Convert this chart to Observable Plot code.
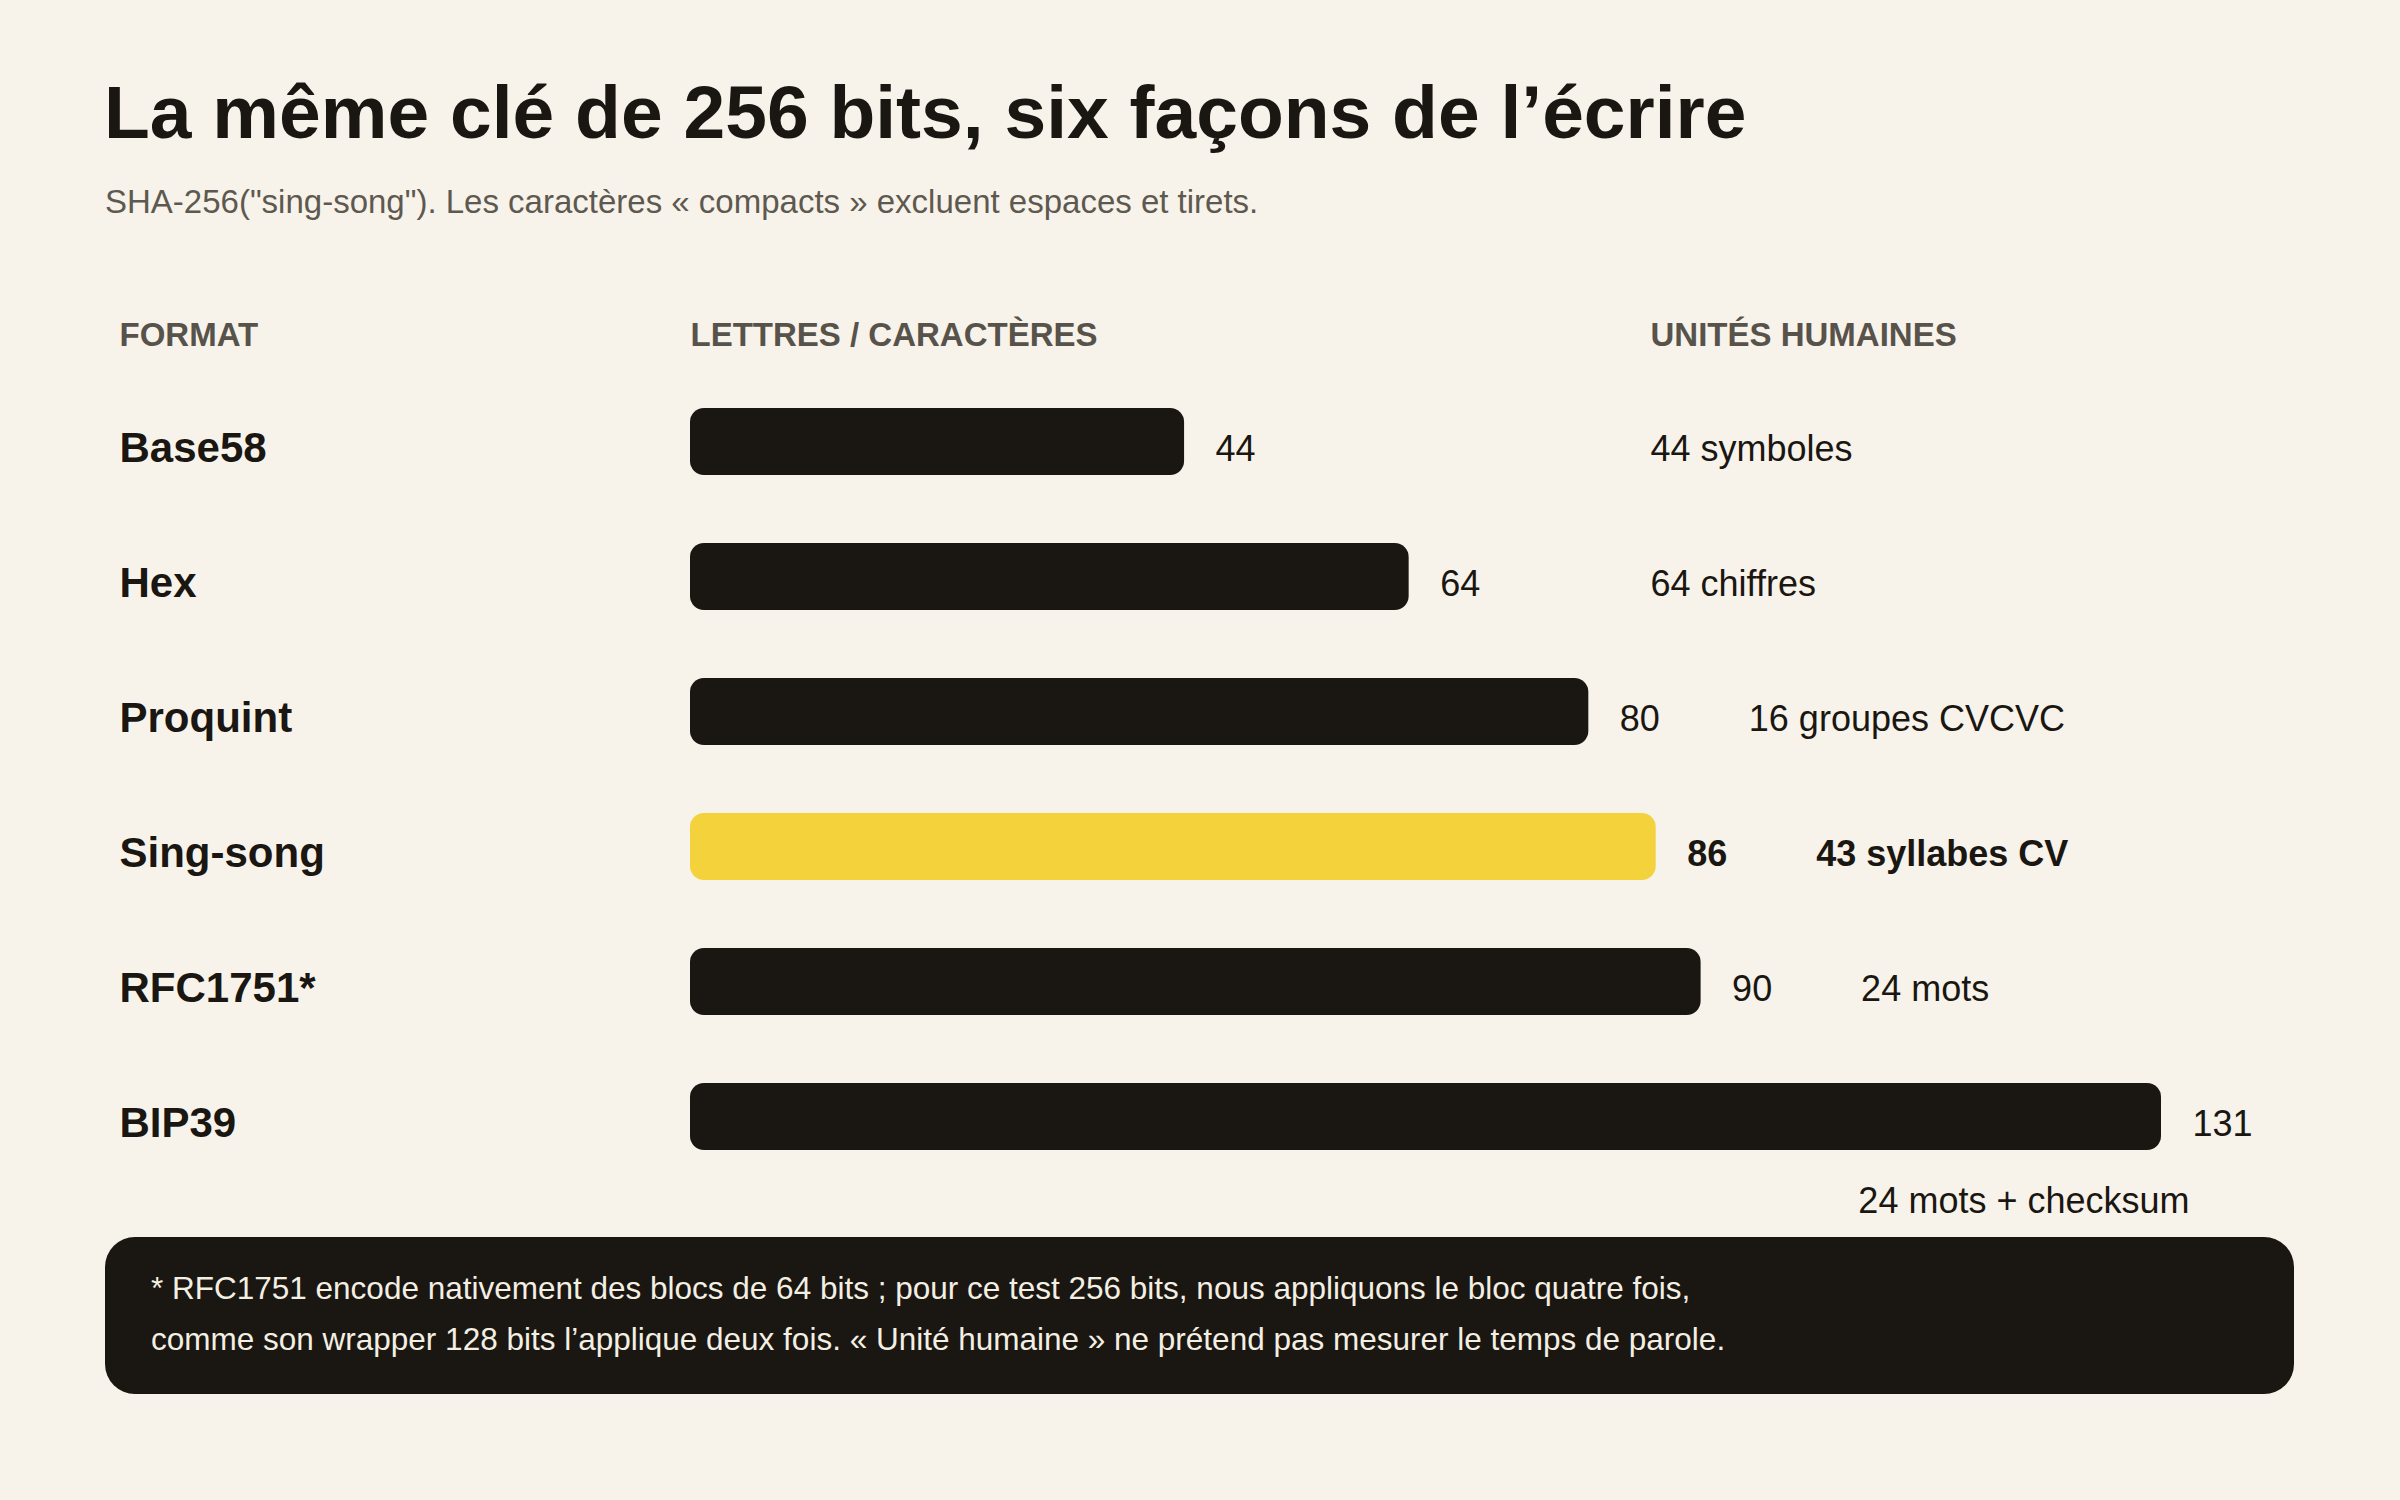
<!DOCTYPE html>
<html lang="fr">
<head>
<meta charset="utf-8">
<script src="https://cdn.jsdelivr.net/npm/d3@7"></script>
<script src="https://cdn.jsdelivr.net/npm/@observablehq/plot@0.6"></script>
<style>
  html, body { margin: 0; padding: 0; background: #f7f3ea; }
  body { width: 2400px; height: 1500px; position: relative; overflow: hidden;
         font-family: "Liberation Sans", Arial, Helvetica, sans-serif; color: #1a1611; }
  #title { position: absolute; left: 104px; top: 75px; font-size: 75px; line-height: 1; font-weight: 700; white-space: nowrap; margin: 0; }
  #subtitle { position: absolute; left: 105px; top: 185px; font-size: 33px; line-height: 1; color: #5e5950; white-space: nowrap; margin: 0; }
  #chart { position: absolute; left: 0; top: 260px; }
  #note { position: absolute; left: 105px; top: 1237px; width: 2189px; height: 157px; box-sizing: border-box;
          background: #1a1611; color: #f4efe3; border-radius: 30px; padding: 26px 46px;
          font-size: 31.5px; line-height: 51px; white-space: nowrap; }
</style>
</head>
<body>
<div id="title"></div>
<div id="subtitle"></div>
<div id="chart"></div>
<div id="note"></div>
<script>
// ---- data ----
const formats = ["Base58", "Hex", "Proquint", "Sing-song", "RFC1751*", "BIP39"];
const letters = [44, 64, 80, 86, 90, 131];
const humanUnits = ["44 symboles", "64 chiffres", "16 groupes CVCVC", "43 syllabes CV", "24 mots", "24 mots + checksum"];
const highlight = "Sing-song";
const headers = ["FORMAT", "LETTRES / CARACTÈRES", "UNITÉS HUMAINES"];
const titleText = "La même clé de 256 bits, six façons de l’écrire";
const subtitleText = "SHA-256(\"sing-song\"). Les caractères « compacts » excluent espaces et tirets.";
const noteLines = [
  "* RFC1751 encode nativement des blocs de 64 bits ; pour ce test 256 bits, nous appliquons le bloc quatre fois,",
  "comme son wrapper 128 bits l’applique deux fois. « Unité humaine » ne prétend pas mesurer le temps de parole."
];

// ---- style / layout ----
const INK = "#1a1611", YELLOW = "#f3d23c", GRAY = "#57524a";
const WIDTH = 2400, HEIGHT = 970;
const M_LEFT = 690, M_RIGHT = 239, M_TOP = 114, M_BOTTOM = 46;
const LABEL_DX = -571;          // format labels left of the bar origin
const UNIT_COL = 1650;          // px of the "unités humaines" column
const UNIT_GAP = 160;           // px gap after a long bar before its unit text
const WRAP_LIMIT = 2100;        // unit text wraps below when it would start beyond this
const HEAD_FS = 33, LABEL_FS = 42, VALUE_FS = 36;

document.getElementById("title").textContent = titleText;
document.getElementById("subtitle").textContent = subtitleText;
const note = document.getElementById("note");
noteLines.forEach((t, i) => { if (i) note.appendChild(document.createElement("br")); note.appendChild(document.createTextNode(t)); });

const rows = formats.map((f, i) => ({format: f, letters: letters[i], unit: humanUnits[i], hl: f === highlight}));
const xMax = d3.max(letters);
const xs = d3.scaleLinear([0, xMax], [M_LEFT, WIDTH - M_RIGHT]);
const wrapped = d => xs(d.letters) + UNIT_GAP > WRAP_LIMIT;
const unitX = d => xs.invert(Math.max(UNIT_COL, xs(d.letters) + UNIT_GAP));

const plot = Plot.plot({
  width: WIDTH, height: HEIGHT,
  marginLeft: M_LEFT, marginRight: M_RIGHT, marginTop: M_TOP, marginBottom: M_BOTTOM,
  x: {domain: [0, xMax], axis: null},
  y: {type: "band", domain: formats, paddingInner: 0.504, paddingOuter: 0.252, round: false, axis: null},
  color: {type: "identity"},
  style: {background: "transparent", fontFamily: "'Liberation Sans', Arial, Helvetica, sans-serif", color: INK, overflow: "visible"},
  marks: [
    // column headers
    Plot.text([headers[0]], {frameAnchor: "top-left", text: d => d, dx: LABEL_DX, dy: 85 - M_TOP, lineAnchor: "bottom", textAnchor: "start", fontSize: HEAD_FS, fontWeight: 700, fill: GRAY}),
    Plot.text([headers[1]], {x: () => 0, frameAnchor: "top", text: d => d, dy: 85 - M_TOP, lineAnchor: "bottom", textAnchor: "start", fontSize: HEAD_FS, fontWeight: 700, fill: GRAY}),
    Plot.text([headers[2]], {x: () => xs.invert(UNIT_COL), frameAnchor: "top", text: d => d, dy: 85 - M_TOP, lineAnchor: "bottom", textAnchor: "start", fontSize: HEAD_FS, fontWeight: 700, fill: GRAY}),
    // bars
    Plot.barX(rows, {x: "letters", y: "format", fill: d => d.hl ? YELLOW : INK, rx: 14}),
    // format labels
    Plot.text(rows, {y: "format", text: "format", frameAnchor: "left", textAnchor: "start", dx: LABEL_DX, dy: 7, fontSize: LABEL_FS, fontWeight: 700, fill: INK}),
    // value labels
    Plot.text(rows.filter(d => !d.hl), {x: "letters", y: "format", text: d => String(d.letters), dx: 31, dy: 7, textAnchor: "start", fontSize: VALUE_FS, fill: INK}),
    Plot.text(rows.filter(d => d.hl), {x: "letters", y: "format", text: d => String(d.letters), dx: 31, dy: 7, textAnchor: "start", fontSize: VALUE_FS, fontWeight: 700, fill: INK}),
    // human units
    Plot.text(rows.filter(d => !d.hl && !wrapped(d)), {x: unitX, y: "format", text: "unit", dy: 7, textAnchor: "start", fontSize: VALUE_FS, fill: INK}),
    Plot.text(rows.filter(d => d.hl && !wrapped(d)), {x: unitX, y: "format", text: "unit", dy: 7, textAnchor: "start", fontSize: VALUE_FS, fontWeight: 700, fill: INK}),
    Plot.text(rows.filter(d => wrapped(d)), {x: "letters", y: "format", text: "unit", dx: 28, dy: 84, textAnchor: "end", fontSize: VALUE_FS, fill: INK})
  ]
});
document.getElementById("chart").appendChild(plot);
</script>
</body>
</html>
